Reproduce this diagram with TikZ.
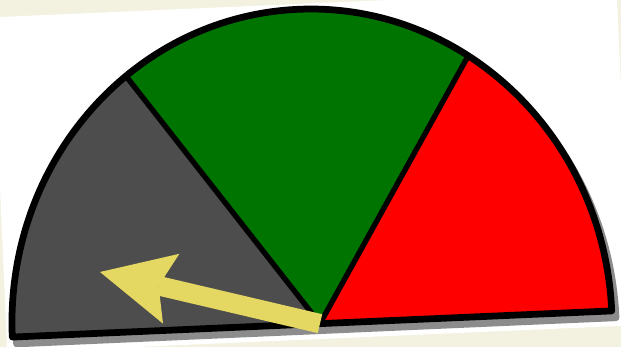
\documentclass[tikz,border=0pt]{standalone}
\usetikzlibrary{arrows.meta}

\definecolor{papel}{RGB}{243,241,224}
\definecolor{gris}{RGB}{77,77,77}
\definecolor{verde}{RGB}{0,116,0}
\definecolor{rojo}{RGB}{255,0,0}
\definecolor{amarillo}{RGB}{229,216,98}
\definecolor{sombra}{RGB}{140,140,140}

\begin{document}
\begin{tikzpicture}[x=0.025cm, y=0.025cm, line join=round,
                    borde/.style={line width=4.8pt, black},
                    corte/.style={line width=3.8pt, black},
                    aguja/.style={line width=13.8pt, amarillo,
                      -{Stealth[length=52pt, width=51pt, inset=9.2pt, line width=0pt]}}]

  %--- parámetros (1 unidad = 1 px) ---
  \def\Rx{300}   % semieje horizontal
  \def\Ry{315}   % semieje vertical
  \def\aA{125.7} % límite gris / verde
  \def\aB{56}    % límite verde / rojo

  %--- fondo y tarjeta ---
  \fill[papel] (0,0) rectangle (621,347);
  \useasboundingbox (0,0) rectangle (621,347);
  \fill[white] (-7.4,329.7) -- (616.6,357) -- (632,21.6) -- (7.2,-5.7) -- cycle;

  \begin{scope}[shift={(312,23)}, rotate=2.5]
    %--- sombra ---
    \filldraw[sombra, line width=4.8pt] (4,-7) -- ++(-\Rx,0)
        arc[start angle=180, end angle=0, x radius=\Rx, y radius=\Ry] -- cycle;

    \coordinate (hub) at (8,0);
    \coordinate (limA) at (\aA:{\Rx} and {\Ry});
    \coordinate (limB) at (\aB:{\Rx} and {\Ry});

    %--- sectores ---
    \fill[gris] (hub) -- (-\Rx,0)
        arc[start angle=180, end angle=\aA, x radius=\Rx, y radius=\Ry] -- cycle;
    \fill[verde] (hub) -- (limA)
        arc[start angle=\aA, end angle=\aB, x radius=\Rx, y radius=\Ry] -- cycle;
    \fill[rojo] (hub) -- (limB)
        arc[start angle=\aB, end angle=0, x radius=\Rx, y radius=\Ry] -- cycle;

    %--- contorno ---
    \draw[corte] (hub) -- (limA);
    \draw[corte] (hub) -- (limB);
    \draw[borde] (-\Rx,0)
        arc[start angle=180, end angle=0, x radius=\Rx, y radius=\Ry] -- cycle;
  \end{scope}

  %--- aguja ---
  \coordinate (tip) at (100,75);
  \draw[aguja] (hub) -- (tip);

\end{tikzpicture}
\end{document}
